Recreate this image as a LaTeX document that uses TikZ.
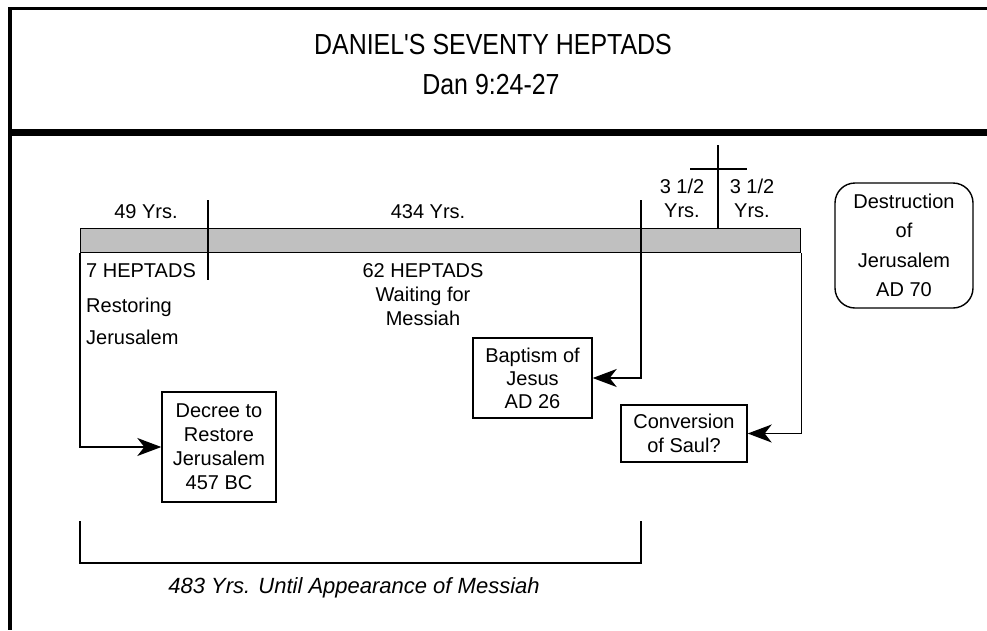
\documentclass[tikz,border=0pt]{standalone}
\usepackage{fontspec}
\setmainfont{Liberation Sans}
\usepackage{graphicx}
\usepackage{tikz}
\usetikzlibrary{positioning, arrows.meta, calc}
\definecolor{barfill}{HTML}{C0C0C0}
\tikzset{
  event box/.style={
    draw, line width=1.4pt, fill=white,
    align=center, inner sep=0pt,
    font=\fontsize{20}{24}\selectfont
  },
  event arrow/.style={
    -{Stealth[length=24pt, width=18pt, inset=7pt]},
    line width=1.4pt
  },
  tl line/.style={line width=1.4pt},
  tl label/.style={
    inner sep=0pt, align=center,
    font=\fontsize{20}{23.5}\selectfont
  },
  title text/.style={anchor=base, inner sep=0pt, font=\fontsize{29}{34}\selectfont},
  frame line/.style={line width=#1, line cap=butt}
}
\newcommand{\condensed}[1]{\scalebox{0.86}[1]{#1}}

\begin{document}
\begin{tikzpicture}[x=1pt, y=-1pt]
  \useasboundingbox (0,0) rectangle (987,630);

  % Frame
  \draw[frame line=3.5pt] (8,8.5) -- (987,8.5);
  \draw[frame line=4pt] (10,7) -- (10,630);
  \draw[frame line=7pt] (8,132.5) -- (987,132.5);

  % Title
  \node[title text] (title) at (493,54) {\condensed{DANIEL\textquotesingle S SEVENTY HEPTADS}};
  \node[title text] (ref) at (491,94) {\condensed{Dan 9:24-27}};

  % Timeline
  \node[draw, line width=1.4pt, fill=barfill, minimum width=720pt, minimum height=24pt,
        inner sep=0pt, anchor=north west] (bar) at (80,228) {};
  \coordinate (d1top) at (208,200);
  \coordinate (d1bot) at (208,280);
  \coordinate (d2top) at (641,200);
  \coordinate (crosstop) at (718,145);
  \draw[tl line] (d1top) -- (d1bot);
  \draw[tl line] (crosstop) -- (crosstop |- bar.north);
  \draw[tl line] (690,169) -- (747,169);

  % Periods
  \node[tl label, anchor=base] (y49) at (146,218) {49 Yrs.};
  \node[tl label, anchor=base] (y434) at (428,218) {434 Yrs.};
  \node[tl label, anchor=base] (half1) at (682,217) {3 1/2\\Yrs.};
  \node[tl label, anchor=base] (half2) at (752,217) {3 1/2\\Yrs.};
  \node[tl label, anchor=base west] (h7) at (86,277) {7 HEPTADS};
  \node[tl label, anchor=base west] (rest1) at (86,312) {Restoring};
  \node[tl label, anchor=base west] (rest2) at (86,344) {Jerusalem};
  \node[tl label, anchor=base, font=\fontsize{20}{24}\selectfont] (h62) at (423,325) {62 HEPTADS\\Waiting for\\Messiah};

  % Events
  \node[event box, minimum width=114pt, minimum height=110pt] (decree) at (219,447) {Decree to\\Restore\\Jerusalem\\457 BC};
  \node[event box, minimum width=119pt, minimum height=80pt, font=\fontsize{20}{23}\selectfont] (baptism) at (532.5,378) {Baptism of\\Jesus\\AD 26};
  \node[event box, minimum width=126pt, minimum height=57pt] (saul) at (684,433.5) {Conversion\\of Saul?};
  \node[event box, rounded corners=20pt, minimum width=138pt, minimum height=125pt,
        font=\fontsize{20}{29.5}\selectfont] (destr) at (904,245.5) {Destruction\\of\\Jerusalem\\AD 70};

  \draw[event arrow] (bar.south west) |- (decree.west);
  \draw[event arrow] (d2top) |- (baptism.east);
  \draw[event arrow] (bar.south east) |- (saul.east);

  % 483 years
  \coordinate (brl) at (80,521);
  \coordinate (brr) at (641,521);
  \draw[tl line] (brl) -- (80,563) -- (641,563) -- (brr);
  \node[tl label, anchor=base, font=\fontsize{22}{26}\selectfont\itshape] (span) at (354,593) {483 Yrs. Until Appearance of Messiah};
\end{tikzpicture}
\end{document}
